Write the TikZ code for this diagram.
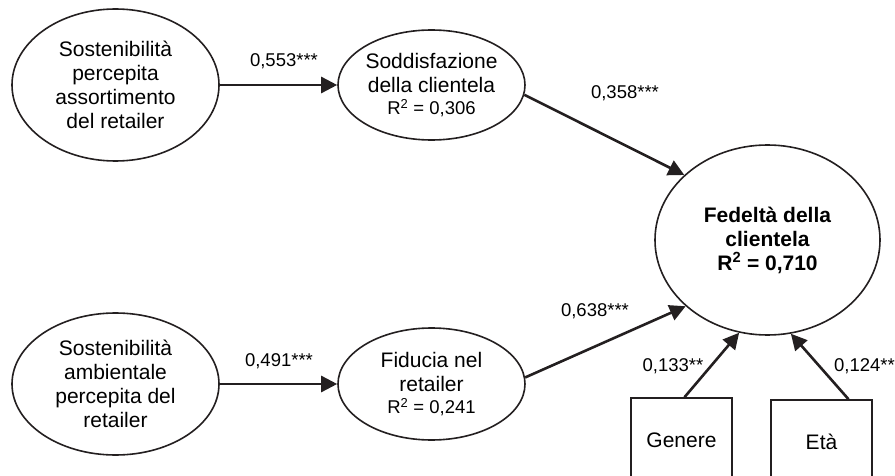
\documentclass[tikz,border=0pt]{standalone}
\usepackage{fontspec}
\setmainfont{Liberation Sans}
\usetikzlibrary{arrows.meta,shapes.geometric}
\definecolor{ink}{HTML}{231F20}
\begin{document}
\begin{tikzpicture}[x=1pt,y=-1pt,
  lat/.style={draw=ink, line width=1.6pt, ellipse, inner sep=0pt, align=center, text=black,
    font=\fontsize{21}{24}\selectfont},
  obs/.style={draw=ink, line width=1.6pt, rectangle, inner sep=0pt, minimum width=101pt,
    minimum height=84pt, font=\fontsize{21}{24}\selectfont},
  arr/.style={draw=ink, line width=2.6pt, -{Triangle[length=16pt,width=16pt]}},
  lbl/.style={inner sep=0pt, font=\fontsize{18.5}{22}\selectfont},
  rsq/.style={}]
\useasboundingbox (0,0) rectangle (895,476);
\clip (0,0) rectangle (895,476);
\node[lat, minimum width=207pt, minimum height=152pt] (e1) at (115.5,85)
  {Sostenibilità\\percepita\\assortimento\\del retailer};
\node[lat, minimum width=187pt, minimum height=110pt] (e2) at (431.5,85)
  {Soddisfazione\\della clientela\\[-2pt]{\fontsize{18.5}{21}\selectfont R\textsuperscript{2} = 0,306}};
\node[lat, minimum width=225pt, minimum height=190pt] (fed) at (767.5,240)
  {\bfseries Fedeltà della\\\bfseries clientela\\\bfseries R\textsuperscript{2} = 0,710};
\node[lat, minimum width=207pt, minimum height=142pt] (e3) at (115.5,384)
  {Sostenibilità\\ambientale\\percepita del\\retailer};
\node[lat, minimum width=187pt, minimum height=112pt] (e4) at (431.5,384)
  {Fiducia nel\\retailer\\[-2pt]{\fontsize{18.5}{21}\selectfont R\textsuperscript{2} = 0,241}};
\node[obs] (gen) at (681.5,440) {Genere};
\node[obs] (eta) at (821.5,442) {Età};
\draw[arr] (e1) -- (e2);
\draw[arr] (e3) -- (e4);
\draw[arr] (e2.-6) -- (fed.142);
\draw[arr] (e4.4) -- (fed.219);
\draw[arr] ([xshift=3pt]gen.north) -- (fed.253);
\draw[arr] ([xshift=27pt]eta.north) -- (fed.-76);
\node[lbl] (l1) at (284,61) {0,553***};
\node[lbl] (l2) at (279,361) {0,491***};
\node[lbl] (l3) at (625,93) {0,358***};
\node[lbl] (l4) at (595,311) {0,638***};
\node[lbl] (l5) at (673,366) {0,133**};
\node[lbl, anchor=east] (l6) at (895,366) {0,124**};
\end{tikzpicture}
\end{document}
